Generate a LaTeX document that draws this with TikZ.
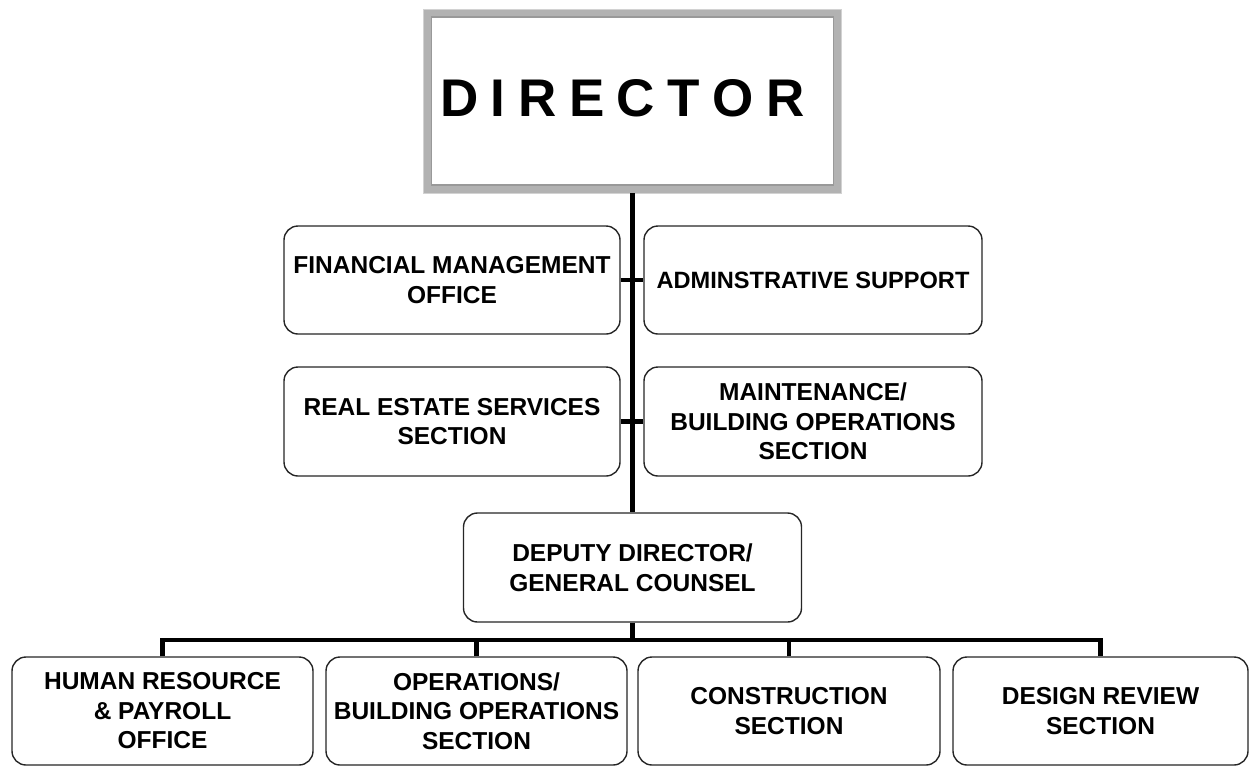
\documentclass[tikz,border=0pt]{standalone}
\usepackage{fontspec}
\setmainfont{Liberation Sans}
\newcommand\dls{\hspace{12.6pt}}
\begin{document}
\begin{tikzpicture}[x=1pt,y=-1pt,
  box/.style={draw=black!85, line width=1.4pt, rounded corners=14pt, fill=white,
    align=center, inner sep=0pt,
    font=\fontsize{24.5}{29.5}\selectfont\bfseries},
  conn/.style={line width=4.5pt, black}]
\useasboundingbox (0,0) rectangle (1250,766);

% Director
\node[draw=gray!60, line width=8pt, fill=white, minimum width=410pt,
      minimum height=176pt, inner sep=0pt, outer sep=0pt, text depth=6pt,
      font=\fontsize{53}{60}\selectfont\bfseries] (director) at (632.5,101)
      {D\dls I\dls R\dls E\dls C\dls T\dls O\dls R\hspace*{20pt}};
\draw[gray!35, line width=1pt] ([xshift=-4pt,yshift=4pt]director.north west)
      rectangle ([xshift=4pt,yshift=-4pt]director.south east);
\draw[gray!80, line width=1.2pt] ([xshift=4pt,yshift=-4pt]director.north west)
      rectangle ([xshift=-4pt,yshift=4pt]director.south east);

% Staff boxes
\node[box, minimum width=336pt, minimum height=108pt] (fin) at (452,280)
      {FINANCIAL MANAGEMENT\\OFFICE};
\node[box, minimum width=338pt, minimum height=108pt,
      font=\fontsize{23.6}{29.5}\selectfont\bfseries] (admin) at (813,280)
      {ADMINSTRATIVE SUPPORT};
\node[box, minimum width=336pt, minimum height=109pt] (re) at (452,421.5)
      {REAL ESTATE SERVICES\\SECTION};
\node[box, minimum width=338pt, minimum height=109pt] (maint) at (813,421.5)
      {MAINTENANCE/\\BUILDING OPERATIONS\\SECTION};

% Deputy
\node[box, minimum width=338pt, minimum height=109pt] (deputy) at (632.5,567.5)
      {DEPUTY DIRECTOR/\\GENERAL COUNSEL};

% Bottom row
\node[box, minimum width=301pt, minimum height=108pt] (hr) at (162.5,711)
      {HUMAN RESOURCE\\\& PAYROLL\\OFFICE};
\node[box, minimum width=301pt, minimum height=108pt] (ops) at (476.5,711)
      {OPERATIONS/\\BUILDING OPERATIONS\\SECTION};
\node[box, minimum width=302pt, minimum height=108pt] (cons) at (789,711)
      {CONSTRUCTION\\SECTION};
\node[box, minimum width=295pt, minimum height=108pt] (design) at (1100.5,711)
      {DESIGN REVIEW\\SECTION};

% Connectors
\coordinate (bar) at (632.5,640);
\draw[conn, shorten <=4pt] (director.south) -- (deputy.north);
\draw[conn] (fin.east) -- (admin.west);
\draw[conn] (re.east) -- (maint.west);
\draw[conn] (deputy.south) -- (bar);
\draw[conn] (hr.north) |- (bar) -| (design.north);
\draw[conn] (ops.north) -- (ops.north |- bar);
\draw[conn] (cons.north) -- (cons.north |- bar);
\end{tikzpicture}
\end{document}
